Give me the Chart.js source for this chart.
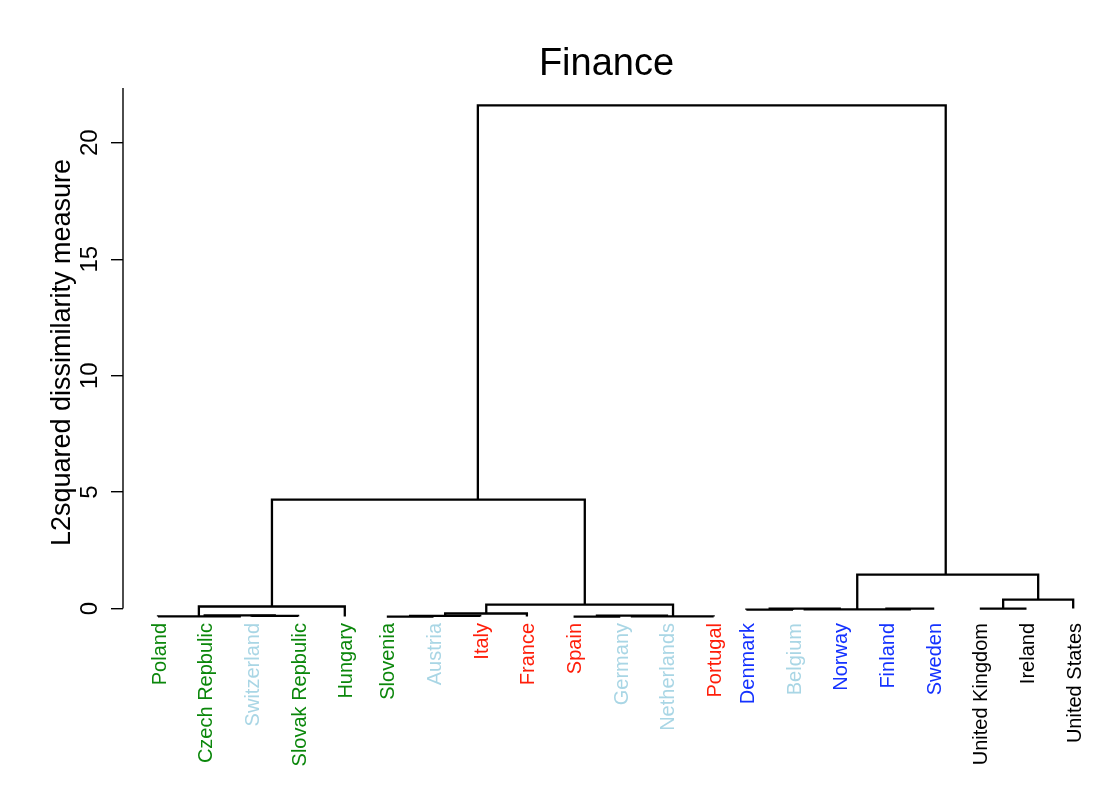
<!DOCTYPE html>
<html>
<head>
<meta charset="utf-8">
<title>Finance</title>
<script src="https://cdn.jsdelivr.net/npm/chart.js@4.4.1/dist/chart.umd.min.js"></script>
<style>
  html, body { margin: 0; padding: 0; background: #fff; }
</style>
</head>
<body>
<canvas id="chart" width="1107" height="811"></canvas>
<script>
// leaves of the dendrogram, left to right
const leafNames = ['Poland', 'Czech Repbulic', 'Switzerland', 'Slovak Repbulic', 'Hungary',
  'Slovenia', 'Austria', 'Italy', 'France', 'Spain', 'Germany', 'Netherlands', 'Portugal',
  'Denmark', 'Belgium', 'Norway', 'Finland', 'Sweden',
  'United Kingdom', 'Ireland', 'United States'];
const leafColors = ['#0b870b', '#0b870b', '#a9d6e5', '#0b870b', '#0b870b',
  '#0b870b', '#a9d6e5', '#ff1e0a', '#ff1e0a', '#ff1e0a', '#a9d6e5', '#a9d6e5', '#ff1e0a',
  '#1432ff', '#a9d6e5', '#1432ff', '#1432ff', '#1432ff',
  '#000000', '#000000', '#000000'];
// leaf positions (leaf-spacing units) and the height each leaf hangs at
const leafPos = [1, 2, 3, 4, 5, 5.9, 6.9, 7.9, 8.9, 9.9, 10.9, 11.9, 12.9,
  13.6, 14.6, 15.6, 16.6, 17.6, 18.6, 19.6, 20.6];
const leafHeight = [-0.34, -0.34, -0.34, -0.34, -0.34, -0.34, -0.34, -0.34, -0.34, -0.34, -0.34, -0.34, -0.34,
  -0.05, -0.05, -0.05, -0.05, -0.05, 0, 0, 0];

// merges in order; node ids 0-20 are leaves, 21.. are these merges
const mergeLeft = [2, 1, 0, 23, 5, 25, 26, 9, 28, 29, 27, 24, 13, 33, 16, 34, 18, 37, 36, 32];
const mergeRight = [3, 21, 22, 4, 6, 7, 8, 10, 11, 12, 30, 31, 14, 15, 17, 35, 19, 20, 38, 39];
const mergeHeight = [-0.31, -0.29, -0.33, 0.09, -0.34, -0.31, -0.21, -0.34, -0.30, -0.33, 0.17, 4.68,
  -0.04, 0.0, 0.0, -0.03, 0.0, 0.39, 1.46, 21.6];
const mergeX = [3.5, 2.75, 1.875, 3.44, 6.4, 7.15, 8.03, 10.4, 11.15, 12.03, 10.14, 7.85,
  14.1, 14.85, 17.1, 15.975, 19.1, 19.85, 17.87, 12.86];

const yTicks = [0, 5, 10, 15, 20];
const FONT = '"Liberation Sans", Arial, Helvetica, sans-serif';

// node coordinates: leaves first, then merges
const nodeX = leafPos.slice();
const nodeH = leafHeight.slice();
mergeX.forEach((x, i) => { nodeX.push(x); nodeH.push(mergeHeight[i]); });

// one bracket per merge: down-left, across, down-right
const datasets = mergeLeft.map((l, i) => {
  const r = mergeRight[i];
  const h = mergeHeight[i];
  return {
    data: [
      { x: nodeX[l], y: nodeH[l] },
      { x: nodeX[l], y: h },
      { x: nodeX[r], y: h },
      { x: nodeX[r], y: nodeH[r] },
    ],
    showLine: true,
    borderColor: '#000',
    borderWidth: 2.3,
    borderJoinStyle: 'miter',
    pointRadius: 0,
    tension: 0,
    clip: false,
  };
});

// R-style axis line: from 0 up to the top of the plot only
const yAxisLine = {
  id: 'yAxisLine',
  afterDraw(chart) {
    const y = chart.scales.y;
    const ctx = chart.ctx;
    ctx.save();
    ctx.strokeStyle = '#000';
    ctx.lineWidth = 1.4;
    ctx.beginPath();
    ctx.moveTo(y.right, y.getPixelForValue(0));
    ctx.lineTo(y.right, y.getPixelForValue(y.max));
    ctx.stroke();
    ctx.restore();
  }
};

const chart = new Chart(document.getElementById('chart').getContext('2d'), {
  type: 'scatter',
  data: { datasets },
  plugins: [yAxisLine],
  options: {
    responsive: false,
    animation: false,
    layout: { padding: { left: 0, right: 17, top: 0, bottom: 0 } },
    plugins: {
      legend: { display: false },
      tooltip: { enabled: false },
      title: {
        display: true,
        text: 'Finance',
        fullSize: false,
        color: '#000',
        font: { family: FONT, size: 38, weight: 'normal' },
        padding: { top: 42, bottom: 0.4 },
      },
    },
    scales: {
      x: {
        type: 'linear',
        min: 0.25,
        max: 20.96,
        afterBuildTicks: (scale) => { scale.ticks = leafPos.map(v => ({ value: v })); },
        afterFit: (scale) => { scale.height = 194; },
        grid: { display: false, drawTicks: false },
        border: { display: false },
        ticks: {
          autoSkip: false,
          minRotation: 90,
          maxRotation: 90,
          padding: 6,
          labelOffset: 2,
          color: (c) => leafColors[c.index],
          font: { family: FONT, size: 20 },
          callback: (v, i) => leafNames[i],
        },
      },
      y: {
        min: -0.36,
        max: 22.35,
        afterBuildTicks: (scale) => { scale.ticks = yTicks.map(v => ({ value: v })); },
        afterFit: (scale) => { scale.width = 123; },
        border: { display: false },
        grid: {
          display: true,
          drawOnChartArea: false,
          drawTicks: true,
          tickLength: 12,
          color: '#000',
          lineWidth: 1.4,
        },
        ticks: {
          minRotation: 90,
          maxRotation: 90,
          crossAlign: 'center',
          padding: 7.7,
          color: '#000',
          font: { family: FONT, size: 24 },
        },
        title: {
          display: true,
          text: 'L2squared dissimilarity measure',
          color: '#000',
          font: { family: FONT, size: 27 },
          padding: { top: 46, bottom: 0 },
        },
      },
    },
  },
});
</script>
</body>
</html>
